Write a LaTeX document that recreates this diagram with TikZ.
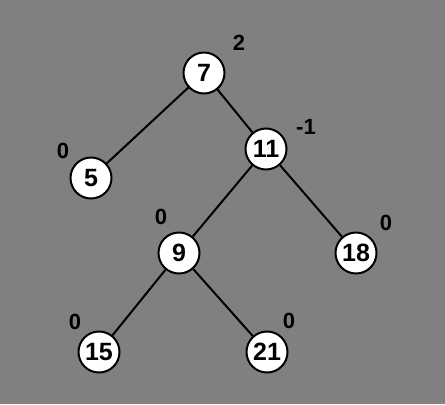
\documentclass[tikz,border=0pt]{standalone}
\usepackage{fontspec}
\setmainfont{Liberation Sans}
\begin{document}
\begin{tikzpicture}[x=1bp,y=-1bp,
  tnode/.style={circle,draw=black,fill=white,line width=2bp,minimum size=41bp,inner sep=0pt,font=\fontsize{25bp}{28bp}\selectfont\bfseries},
  bal/.style={font=\fontsize{22bp}{26bp}\selectfont\bfseries,inner sep=0pt},
  edge/.style={line width=2bp,black}]
\fill[fill={rgb,255:red,128;green,128;blue,128}] (0,0) rectangle (445,404);
\useasboundingbox (0,0) rectangle (445,404);
\node[tnode] (n7) at (204,73) {7};
\node[tnode] (n5) at (91,178) {5};
\node[tnode] (n11) at (266,149) {11};
\node[tnode] (n9) at (179,253) {9};
\node[tnode] (n18) at (356,253) {18};
\node[tnode] (n15) at (99,352) {15};
\node[tnode] (n21) at (267,352) {21};
\draw[edge] (n7) -- (n5);
\draw[edge] (n7) -- (n11);
\draw[edge] (n11) -- (n9);
\draw[edge] (n11) -- (n18);
\draw[edge] (n9) -- (n15);
\draw[edge] (n9) -- (n21);
\node[bal] (b7) at (239,43) {2};
\node[bal] (b5) at (63,151) {0};
\node[bal] (b11) at (306,127) {-1};
\node[bal] (b9) at (161,217) {0};
\node[bal] (b18) at (386,223) {0};
\node[bal] (b15) at (75,322) {0};
\node[bal] (b21) at (289,321) {0};
\end{tikzpicture}
\end{document}
